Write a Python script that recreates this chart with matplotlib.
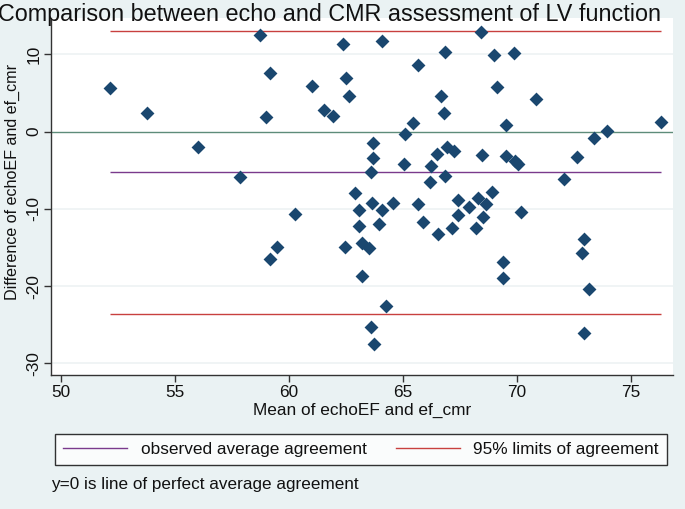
import matplotlib
matplotlib.use("Agg")
import matplotlib.pyplot as plt
from matplotlib.lines import Line2D

plt.rcParams['font.family'] = ['Liberation Sans', 'DejaVu Sans']
plt.rcParams['axes.unicode_minus'] = False

mean_ef = [52.15, 53.77, 56.0, 57.86, 58.73, 59.17, 58.99, 61.02, 62.35, 62.5,
           62.65, 61.54, 61.92, 62.91, 60.28, 59.47, 59.17, 62.44, 63.08, 63.08,
           63.2, 63.52, 63.22, 63.6, 63.74, 64.24, 63.63, 64.09, 64.57, 63.96,
           65.64, 65.86, 66.54, 67.14, 68.19, 67.42, 68.3, 68.9, 67.9, 68.65,
           67.42, 68.52, 70.16, 69.37, 69.38, 72.95, 72.84, 73.17, 72.95, 64.09,
           66.84, 65.64, 66.65, 66.8, 65.45, 65.1, 68.42, 69.0, 69.87, 69.1,
           70.83, 69.5, 76.32, 73.95, 73.39, 72.62, 72.06, 63.7, 63.7, 63.58,
           65.06, 66.49, 66.92, 67.22, 68.48, 69.52, 69.89, 70.04, 66.24, 66.84,
           66.2]
diff_ef = [5.61, 2.38, -1.98, -5.86, 12.47, 7.63, 1.94, 5.95, 11.35, 6.9,
           4.62, 2.81, 2.07, -7.97, -10.65, -14.96, -16.5, -14.96, -10.2, -12.2,
           -14.44, -15.08, -18.63, -25.3, -27.5, -22.55, -9.27, -10.13, -9.27, -11.9,
           -9.38, -11.75, -13.25, -12.5, -12.45, -8.8, -8.65, -7.78, -9.78, -9.38,
           -10.78, -11.05, -10.4, -16.9, -18.9, -13.92, -15.74, -20.39, -26.0, 11.73,
           10.31, 8.63, 4.62, 2.46, 1.1, -0.3, 12.94, 9.92, 10.22, 5.82,
           4.23, 0.9, 1.21, 0.05, -0.86, -3.27, -6.12, -1.42, -3.36, -5.17,
           -4.14, -2.95, -1.94, -2.45, -2.98, -3.1, -3.85, -4.2, -4.5, -5.69,
           -6.47]

mean_diff = -5.27
limits = [-23.58, 13.03]

x_ticks = [50, 55, 60, 65, 70, 75]
y_ticks = [10, 0, -10, -20, -30]

bg = '#EAF2F3'
navy = '#1A476F'
purple = '#7A3A8C'
red = '#C8403F'
green = '#5E8C7A'

fig = plt.figure(figsize=(6.85, 5.09), dpi=100, facecolor=bg)
ax = fig.add_axes([51/685, 1-375/509, (673-51)/685, (375-18)/509])
ax.set_facecolor('white')

xmin, xmax = min(mean_ef), max(mean_ef)
for yv in y_ticks:
    if yv != 0:
        ax.axhline(yv, color='#EEF2F3', lw=1.2, zorder=0)
ax.axhline(0, color=green, lw=1.0, zorder=1)
ax.hlines([mean_diff], xmin, xmax, color=purple, lw=1.0, zorder=2)
ax.hlines(limits, xmin, xmax, color=red, lw=1.0, zorder=2)

ax.scatter(mean_ef, diff_ef, marker='D', s=50, color=navy, linewidths=0, zorder=3)

ax.set_xlim(49.56, 76.84)
ax.set_ylim(-31.5, 14.7)
ax.set_xticks(x_ticks)
ax.set_yticks(y_ticks)
ax.tick_params(axis='both', direction='out', length=5, width=1, color='#333333',
               labelsize=12.4, pad=2, labelcolor='#111111')
plt.setp(ax.get_yticklabels(), rotation=90, va='center')
for s in ['top', 'right']:
    ax.spines[s].set_visible(False)
for s in ['left', 'bottom']:
    ax.spines[s].set_color('#333333')
    ax.spines[s].set_linewidth(1.0)

ax.set_xlabel('Mean of echoEF and ef_cmr', fontsize=12.4, labelpad=2, color='#111111')
ax.set_ylabel('Difference of echoEF and ef_cmr', fontsize=11.6, color='#111111')
ax.yaxis.set_label_coords(-0.05, 0.54)

fig.text(330/685, 1 - 15/509, 'Comparison between echo and CMR assessment of LV function',
         ha='center', va='center', fontsize=16.8, color='#111111')

handles = [Line2D([], [], color=purple, lw=1.0), Line2D([], [], color=red, lw=1.0)]
leg = fig.legend(handles, ['observed average agreement', '95% limits of agreement'],
                 ncol=2, loc='center', bbox_to_anchor=(361/685, 1 - 449.5/509),
                 frameon=True, fancybox=False, edgecolor='black', facecolor='white',
                 fontsize=12.4, handlelength=3.7, handletextpad=0.8, columnspacing=1.7,
                 borderpad=0.45)
leg.get_frame().set_linewidth(1.0)
for t in leg.get_texts():
    t.set_color('#111111')

fig.text(51.5/685, 1 - 485/509, 'y=0 is line of perfect average agreement', ha='left', va='center',
         fontsize=12.3, color='#111111')

fig.savefig('out.png', dpi=100, facecolor=bg)
